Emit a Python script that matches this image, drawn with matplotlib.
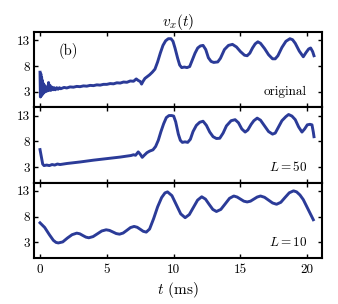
import matplotlib
matplotlib.use("Agg")
import matplotlib.pyplot as plt

plt.rcParams['font.family'] = 'serif'
plt.rcParams['font.serif'] = ['cmr10', 'DejaVu Serif']
plt.rcParams['mathtext.fontset'] = 'cm'
plt.rcParams['axes.unicode_minus'] = False
plt.rcParams['axes.formatter.use_mathtext'] = True

# --- data ---
t_orig = [0.00, 0.03, 0.06, 0.09, 0.12, 0.15, 0.18, 0.21, 0.25, 0.29, 0.33, 0.37,
          0.42, 0.47, 0.52, 0.58, 0.64, 0.70, 0.76, 0.82, 0.90, 0.98, 1.06, 1.15,
          1.25, 1.35, 1.45, 1.55, 1.8, 2.0, 2.25, 2.5, 2.75, 3.0, 3.25, 3.5, 3.75,
          4.0, 4.25, 4.5, 4.75, 5.0, 5.25, 5.5, 5.75, 6.0, 6.25, 6.5, 6.75, 7.0,
          7.2, 7.35, 7.5, 7.6, 7.7, 7.85, 8.0, 8.2, 8.4, 8.6, 8.8, 9.0, 9.2, 9.4,
          9.6, 9.8, 9.95, 10.1, 10.3, 10.45, 10.6, 10.8, 11.0, 11.2, 11.4, 11.6,
          11.8, 12.0, 12.2, 12.4, 12.6, 12.8, 13.0, 13.3, 13.5, 13.8, 14.1, 14.4,
          14.7, 15.0, 15.3, 15.5, 15.7, 15.9, 16.1, 16.3, 16.5, 16.8, 17.1, 17.4,
          17.6, 17.8, 18.1, 18.4, 18.7, 18.9, 19.1, 19.4, 19.7, 19.9, 20.1, 20.25,
          20.4, 20.5]
v_orig = [6.8, 2.0, 6.5, 2.2, 5.8, 2.4, 5.2, 2.6, 4.6, 2.8, 4.3, 3.0,
          4.0, 3.1, 3.9, 3.2, 4.8, 3.3, 4.2, 3.3, 3.9, 3.4, 3.8, 3.4,
          3.8, 3.5, 3.8, 3.6, 3.85, 3.75, 3.95, 3.9, 4.05, 4.0, 4.15, 4.1, 4.25,
          4.2, 4.35, 4.3, 4.45, 4.45, 4.6, 4.55, 4.75, 4.7, 4.9, 4.85, 5.1, 5.05,
          5.5, 5.2, 5.0, 4.5, 5.0, 5.6, 5.9, 6.3, 6.8, 7.4, 8.8, 10.5, 12.0, 12.9,
          13.3, 13.3, 12.8, 11.5, 9.5, 8.2, 7.7, 7.8, 7.7, 7.9, 9.2, 10.5,
          11.5, 11.9, 12.0, 11.2, 9.6, 8.9, 8.7, 8.8, 9.5, 11.2, 12.0, 12.2,
          11.7, 10.8, 10.1, 10.0, 10.5, 11.5, 12.3, 12.7, 12.4, 11.4, 10.2, 9.4,
          9.4, 10.0, 11.6, 12.8, 13.3, 13.1, 12.4, 10.9, 9.8, 10.6, 11.3, 11.5,
          10.8, 10.0]

t_l50 = [0.0, 0.1, 0.2, 0.3, 0.5, 0.7, 0.9, 1.1, 1.3, 1.5, 2.0, 3.0, 4.0, 5.0,
         6.0, 6.8, 7.0, 7.15, 7.35, 7.5, 7.65, 7.8, 8.0, 8.2, 8.45, 8.65, 8.85,
         9.05, 9.25, 9.45, 9.65, 9.85, 10.0, 10.15, 10.35, 10.5, 10.65, 10.85,
         11.05, 11.25, 11.45, 11.7, 11.95, 12.2, 12.45, 12.7, 12.95, 13.2, 13.45,
         13.7, 13.95, 14.3, 14.6, 14.85, 15.1, 15.35, 15.55, 15.8, 16.0, 16.25,
         16.5, 16.8, 17.1, 17.4, 17.6, 17.85, 18.1, 18.4, 18.6, 18.85, 19.1,
         19.35, 19.6, 19.8, 20.0, 20.2, 20.35, 20.45, 20.5]
v_l50 = [6.4, 5.0, 3.6, 3.3, 3.4, 3.3, 3.5, 3.4, 3.6, 3.5, 3.7, 4.0, 4.35, 4.65,
         4.95, 5.25, 5.4, 5.3, 5.95, 5.5, 4.9, 5.3, 5.8, 6.1, 6.35, 7.0, 8.2,
         9.9, 11.4, 12.6, 13.0, 13.0, 12.9, 11.8, 9.4, 8.2, 7.8, 7.9,
         7.8, 8.4, 9.9, 11.1, 11.7, 11.9, 11.1, 9.8, 8.9, 8.55, 8.6,
         9.6, 11.0, 12.0, 12.2, 11.6, 10.4, 9.8, 10.2, 11.3, 12.0, 12.5,
         12.1, 11.0, 9.9, 9.4, 9.6, 10.8, 12.0, 12.8, 13.2, 12.9, 12.2,
         10.8, 9.8, 10.4, 11.2, 11.3, 11.2, 9.8, 8.9]

t_l10 = [0.0, 0.35, 0.7, 1.0, 1.2, 1.37, 1.7, 2.05, 2.4, 2.75, 2.98, 3.2, 3.43,
         3.65, 3.97, 4.3, 4.62, 4.95, 5.2, 5.45, 5.7, 5.95, 6.22, 6.5, 6.77,
         7.04, 7.27, 7.5, 7.72, 7.95, 8.2, 8.5, 8.8, 9.1, 9.35, 9.54, 9.87,
         10.2, 10.53, 10.86, 11.17, 11.48, 11.79, 12.1, 12.38, 12.65, 12.93,
         13.2, 13.53, 13.85, 14.18, 14.5, 14.75, 15.0, 15.25, 15.5, 15.75, 16.0,
         16.25, 16.5, 16.8, 17.1, 17.4, 17.7, 18.02, 18.33, 18.65, 18.97, 19.2,
         19.45, 19.7, 19.95, 20.2, 20.45]
v_l10 = [6.8, 5.9, 4.5, 3.4, 3.0, 2.9, 3.1, 3.85, 4.5, 4.8, 4.67, 4.35, 4.03,
         3.9, 4.13, 4.68, 5.22, 5.45, 5.33, 5.03, 4.72, 4.6, 4.82, 5.35, 5.88,
         6.1, 5.94, 5.55, 5.16, 5.0, 5.6, 7.6, 9.9, 11.7, 12.6, 12.8, 12.07,
         10.3, 8.53, 7.8, 8.4, 9.8, 11.2, 11.85, 11.4, 10.4, 9.4,
         9.0, 9.4, 10.45, 11.55, 12.0, 11.8, 11.4, 11.0, 10.85, 11.0, 11.4,
         11.8, 12.0, 11.75, 11.2, 10.65, 10.4, 10.78, 11.7, 12.62, 13.0, 12.8,
         12.2, 11.3, 10.0, 8.7, 7.4]

labels = ['original', '$L = 50$', '$L = 10$']
xticks = [0, 5, 10, 15, 20]
yticks = [3, 8, 13]
color = '#2b3b98'

fig = plt.figure(figsize=(3.38, 3.04), dpi=100)
left, width = 34 / 338, 288 / 338
h = 75.3 / 304
series = [(t_orig, v_orig), (t_l50, v_l50), (t_l10, v_l10)]
axes = []
for i, (t, v) in enumerate(series):
    bottom = 1 - (32 + (i + 1) * 75.3) / 304
    ax = fig.add_axes([left, bottom, width, h])
    ax.plot(t, v, color=color, lw=2.1, solid_joinstyle='round')
    ax.set_xlim(-0.45, 21.1)
    ax.set_ylim(0, 14.6)
    ax.set_xticks(xticks)
    ax.set_yticks(yticks)
    ax.set_yticklabels([str(y) for y in yticks])
    ax.tick_params(direction='in', top=True, right=True, length=3,
                   width=1.0, labelsize=9.5, pad=3)
    ax.tick_params(axis='x', pad=4)
    for s in ax.spines.values():
        s.set_linewidth(1.5)
    if i < 2:
        ax.set_xticklabels([])
    else:
        ax.set_xticklabels([str(x) for x in xticks])
    ax.text(0.948, 0.21, labels[i], transform=ax.transAxes, ha='right',
            va='center', fontsize=9.5)
    axes.append(ax)

axes[0].text(0.085, 0.75, '(b)', transform=axes[0].transAxes, ha='left',
             va='center', fontsize=10.5)
axes[0].set_title('$v_x(t)$', fontsize=11, pad=3)
axes[2].set_xlabel('$t$ (ms)', fontsize=11, labelpad=3)

fig.savefig('out.png', dpi=100)
